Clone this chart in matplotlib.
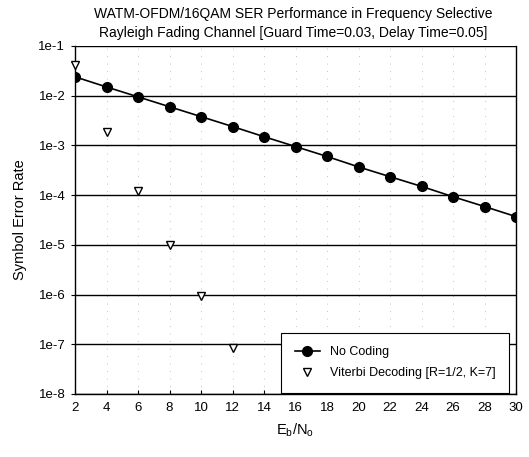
import matplotlib
matplotlib.use("Agg")
import matplotlib.pyplot as plt
import numpy as np

plt.rcParams['font.family'] = ['Liberation Sans', 'DejaVu Sans']

# Eb/No (dB) and symbol error rates
ebno = [2, 4, 6, 8, 10, 12, 14, 16, 18, 20, 22, 24, 26, 28, 30]
ser_nocoding = [2.4e-2, 1.5e-2, 9.5e-3, 6.0e-3, 3.8e-3, 2.4e-3, 1.5e-3, 9.5e-4,
                6.0e-4, 3.7e-4, 2.35e-4, 1.5e-4, 9.3e-5, 5.9e-5, 3.7e-5]

ebno_viterbi = [2, 4, 6, 8, 10, 12]
ser_viterbi = [4.2e-2, 1.85e-3, 1.2e-4, 1.0e-5, 9.3e-7, 8.3e-8]

yticks = [1e-8, 1e-7, 1e-6, 1e-5, 1e-4, 1e-3, 1e-2, 1e-1]
ytick_labels = ['1e-8', '1e-7', '1e-6', '1e-5', '1e-4', '1e-3', '1e-2', '1e-1']
xticks = list(range(2, 31, 2))

fig = plt.figure(figsize=(5.29, 4.57), dpi=100)
ax = fig.add_axes([75 / 529, 1 - 394 / 457, (516 - 75) / 529, (394 - 46) / 457])

ax.set_yscale('log')
ax.set_xlim(2, 30)
ax.set_ylim(1e-8, 1e-1)

# major horizontal lines at each decade
for y in yticks:
    ax.axhline(y, color='black', lw=1.0, zorder=1)
# faint dotted verticals
for x in xticks:
    ax.axvline(x, color='#b0b0b0', lw=0.6, ls=(0, (1, 8)), zorder=0)

ax.plot(ebno, ser_nocoding, color='black', lw=1.2, marker='o', markersize=7,
        markerfacecolor='black', label='No Coding', zorder=3)
ax.plot(ebno_viterbi, ser_viterbi, ls='none', marker='v', markersize=6,
        markerfacecolor='white', markeredgecolor='black', markeredgewidth=1.0,
        label='Viterbi Decoding [R=1/2, K=7]', zorder=3, clip_on=False)

ax.set_xticks(xticks)
ax.set_xticklabels([str(x) for x in xticks], fontsize=9.5)
ax.set_yticks(yticks)
ax.set_yticklabels(ytick_labels, fontsize=9.5)
ax.minorticks_off()
ax.tick_params(axis='x', direction='in', length=3, pad=6)
ax.tick_params(axis='y', direction='out', length=3, pad=4)

for side in ['top', 'bottom', 'left', 'right']:
    ax.spines[side].set_color('black')
    ax.spines[side].set_linewidth(1.0)
ax.spines['top'].set_visible(False)

ax.set_ylabel('Symbol Error Rate', fontsize=10.5, labelpad=8)
ax.set_xlabel(r'E$_{\mathregular{b}}$/N$_{\mathregular{o}}$', fontsize=10.5, labelpad=5)

fig.text(0.555, 1 - 14 / 457, 'WATM-OFDM/16QAM SER Performance in Frequency Selective',
         ha='center', va='center', fontsize=10)
fig.text(0.555, 1 - 33 / 457, 'Rayleigh Fading Channel [Guard Time=0.03, Delay Time=0.05]',
         ha='center', va='center', fontsize=10)

leg = ax.legend(loc='lower right', bbox_to_anchor=(0.984, 0.003), fontsize=9,
                frameon=True, fancybox=False, framealpha=1, edgecolor='black',
                borderpad=1.1, handlelength=2.0, labelspacing=0.7, borderaxespad=0)
leg.get_frame().set_linewidth(0.8)

fig.savefig('out.png', dpi=100)
